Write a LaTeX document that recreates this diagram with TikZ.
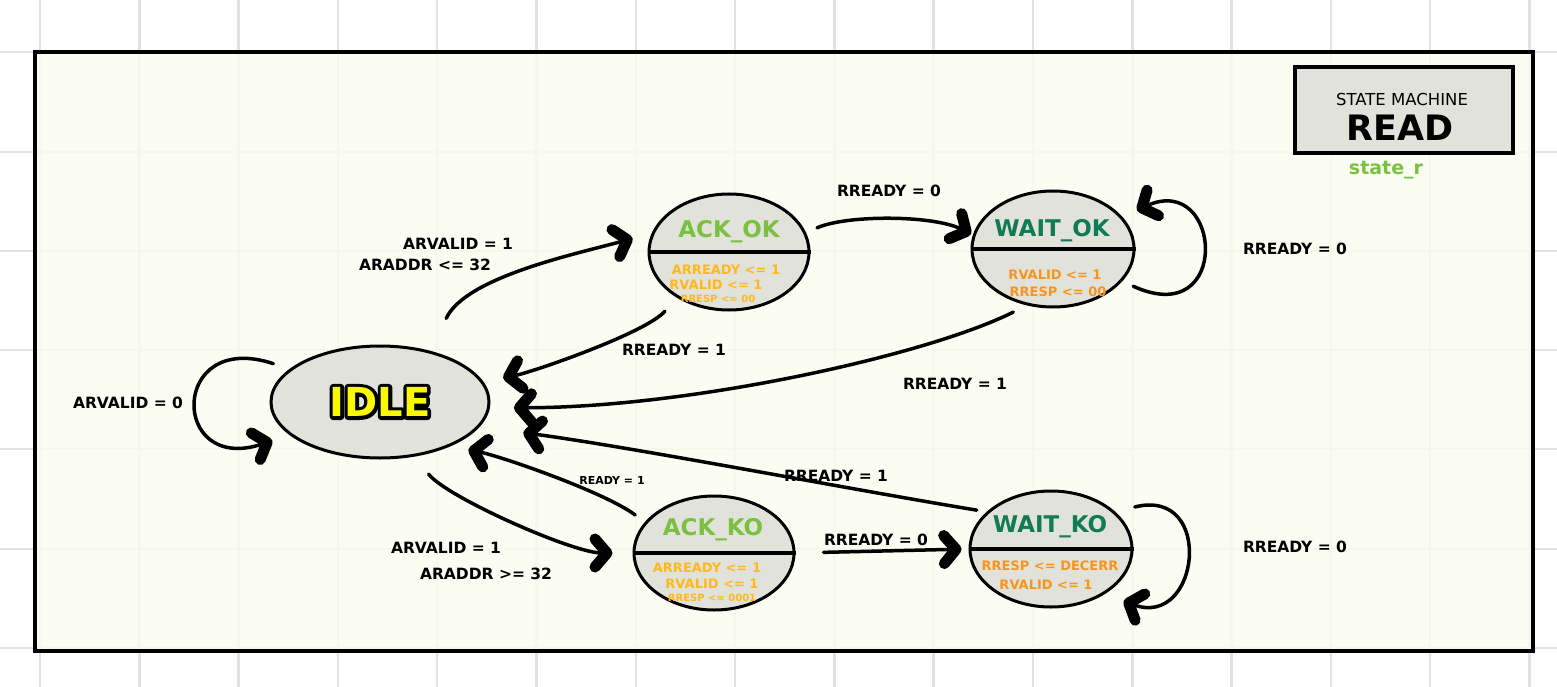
\documentclass[tikz,border=0pt]{standalone}
\usepackage{fontspec}
\setmainfont{DejaVu Sans}
\usetikzlibrary{arrows.meta,shapes.geometric}

\definecolor{gridc}{HTML}{E2E2E2}
\definecolor{paper}{HTML}{FBFDF0}
\definecolor{statefill}{HTML}{E1E3DB}
\definecolor{okgreen}{HTML}{7BC043}
\definecolor{deepgreen}{HTML}{117A56}
\definecolor{goldattr}{HTML}{FFB81C}
\definecolor{orangeattr}{HTML}{F7941D}
\definecolor{idleyellow}{HTML}{F8F800}

% outlined glyphs: fill and stroke text (render mode 2) with a wide black pen
\newcommand{\outlinedtext}[1]{\special{pdf:literal direct 0 0 0 RG 7 w 1 j 2 Tr}#1\special{pdf:literal direct 0 Tr}}

\begin{document}
\begin{tikzpicture}[x=1pt,y=-1pt,
  state/.style={ellipse, draw, line width=3pt, fill=statefill, inner sep=0pt},
  divider/.style={line width=3.5pt},
  edge/.style={line width=3.5pt, line cap=round,
    -{Straight Barb[length=12pt,width=28pt,line width'=11pt,round]}},
  lbl/.style={font=\bfseries\fontsize{15.5}{15.5}\selectfont, inner sep=0pt},
  smalllbl/.style={font=\bfseries\fontsize{11}{11}\selectfont, inner sep=0pt},
  sname/.style={font=\bfseries\fontsize{23}{23}\selectfont, inner sep=0pt},
  attr/.style={font=\bfseries\fontsize{13}{13}\selectfont, inner sep=0pt},
  attrsmall/.style={font=\bfseries\fontsize{10}{10}\selectfont, inner sep=0pt},
  idletxt/.style={font=\bfseries\fontsize{40}{40}\selectfont, inner sep=0pt}]

\useasboundingbox (0,0) rectangle (1557,687);

% squared paper
\fill[white] (0,0) rectangle (1557,687);
\foreach \gx in {0,...,15}
  \draw[gridc, line width=2.5pt] ({40+99.3*\gx},0) -- ({40+99.3*\gx},687);
\foreach \gy in {52,152,251,350,449,549,648}
  \draw[gridc, line width=2.5pt] (0,\gy) -- (1557,\gy);

% drawing frame
\fill[paper, opacity=0.8] (35,52) rectangle (1533,651);
\draw[line width=3.5pt] (35,52) rectangle (1533,651);

% title box
\node[draw, line width=4pt, fill=statefill, minimum width=218pt, minimum height=86pt,
      inner sep=0pt] (title) at (1404,110) {};
\node[font=\fontsize{16.5}{16.5}\selectfont, inner sep=0pt] (titlea) at (1402,99) {STATE MACHINE};
\node[font=\bfseries\fontsize{35}{35}\selectfont, inner sep=0pt] (titleb) at (1400,128) {READ};
\node[font=\bfseries\fontsize{19}{19}\selectfont, text=okgreen, inner sep=0pt] (reg) at (1386,170) {state\_r};

% states
\node[state, minimum width=218pt, minimum height=112pt] (idle) at (380,402) {};
\node[state, minimum width=160pt, minimum height=116pt] (ackok) at (729,252) {};
\node[state, minimum width=162pt, minimum height=116pt] (waitok) at (1053,249) {};
\node[state, minimum width=160pt, minimum height=114pt] (ackko) at (714,553) {};
\node[state, minimum width=162pt, minimum height=116pt] (waitko) at (1051,549) {};

\draw[divider] (ackok.west) -- (ackok.east);
\draw[divider] (waitok.west) -- (waitok.east);
\draw[divider] (ackko.west) -- (ackko.east);
\draw[divider] (waitko.west) -- (waitko.east);

% IDLE: yellow letters with a black outline
\node[idletxt, text=black] (idleline) at (idle.center) {\outlinedtext{IDLE}};
\node[idletxt, text=idleyellow] (idlename) at (idle.center) {IDLE};

% ACK_OK
\node[sname, text=okgreen] (ackokname) at (729,232) {ACK\_OK};
\node[attr, text=goldattr] (ackoka) at (726,270) {ARREADY <= 1};
\node[attr, text=goldattr] (ackokb) at (716,285) {RVALID <= 1};
\node[attrsmall, text=goldattr] (ackokc) at (718,299) {RRESP <= 00};

% WAIT_OK
\node[sname, text=deepgreen] (waitokname) at (1052,231) {WAIT\_OK};
\node[attr, text=orangeattr] (waitoka) at (1055,275) {RVALID <= 1};
\node[attr, text=orangeattr] (waitokb) at (1058,292) {RRESP <= 00};

% ACK_KO
\node[sname, text=okgreen] (ackkoname) at (713,530) {ACK\_KO};
\node[attr, text=goldattr] (ackkoa) at (707,568) {ARREADY <= 1};
\node[attr, text=goldattr] (ackkob) at (712,584) {RVALID <= 1};
\node[attrsmall, text=goldattr] (ackkoc) at (712,598) {RRESP <= 0001};

% WAIT_KO
\node[sname, text=deepgreen] (waitkoname) at (1050,527) {WAIT\_KO};
\node[attr, text=orangeattr] (waitkoa) at (1050,566) {RRESP <= DECERR};
\node[attr, text=orangeattr] (waitkob) at (1046,585) {RVALID <= 1};

% transitions
\draw[edge, shorten <=36pt, shorten >=20pt]
  (idle.45) .. controls +(35,-75) and +(-70,20) .. (ackok.166);
\draw[edge, shorten <=18pt, shorten >=20pt]
  (ackok.221) .. controls +(-30,35) and +(50,-10) .. (idle.11);
\draw[edge, shorten <=12pt, shorten >=2pt]
  (ackok.14) .. controls +(40,-18) and +(-40,-20) .. (waitok.170);
\draw[edge, shorten <=12pt, shorten >=16pt]
  (waitok.-25) .. controls +(110,50) and +(100,-45) .. (waitok.25);
\draw[edge, shorten <=15pt, shorten >=24pt]
  (waitok.245) .. controls +(-100,50) and +(200,0) .. (idle.-3);
\draw[edge, shorten <=17pt, shorten >=18pt]
  (idle.160) .. controls +(-120,-40) and +(-120,40) .. (idle.200);
\draw[edge, shorten <=22pt, shorten >=20pt]
  (idle.-57) .. controls +(30,40) and +(-60,0) .. (ackko.180);
\draw[edge, shorten <=12pt, shorten >=18pt]
  (ackko.156) .. controls +(-40,-30) and +(50,10) .. (idle.-32);
\draw[edge, shorten <=28pt, shorten >=7pt]
  (ackko.east) -- (waitko.west);
\draw[edge, shorten <=10pt, shorten >=44pt]
  (waitko.150) .. controls +(-150,-25) and +(150,20) .. (idle.-14);
\draw[edge, shorten <=20pt, shorten >=20pt]
  (waitko.30) .. controls +(100,-25) and +(95,35) .. (waitko.-40);

% transition labels
\node[lbl] (l1a) at (458,244) {ARVALID = 1};
\node[lbl] (l1b) at (425,265) {ARADDR <= 32};
\node[lbl] (l2) at (674,350) {RREADY = 1};
\node[lbl] (l3) at (889,191) {RREADY = 0};
\node[lbl] (l4) at (1295,249) {RREADY = 0};
\node[lbl] (l5) at (955,384) {RREADY = 1};
\node[lbl] (l6) at (128,403) {ARVALID = 0};
\node[lbl] (l7a) at (446,548) {ARVALID = 1};
\node[lbl] (l7b) at (486,574) {ARADDR >= 32};
\node[smalllbl] (l8) at (612,480) {READY = 1};
\node[lbl] (l9) at (876,540) {RREADY = 0};
\node[lbl] (l10) at (836,476) {RREADY = 1};
\node[lbl] (l11) at (1295,547) {RREADY = 0};
\end{tikzpicture}
\end{document}
